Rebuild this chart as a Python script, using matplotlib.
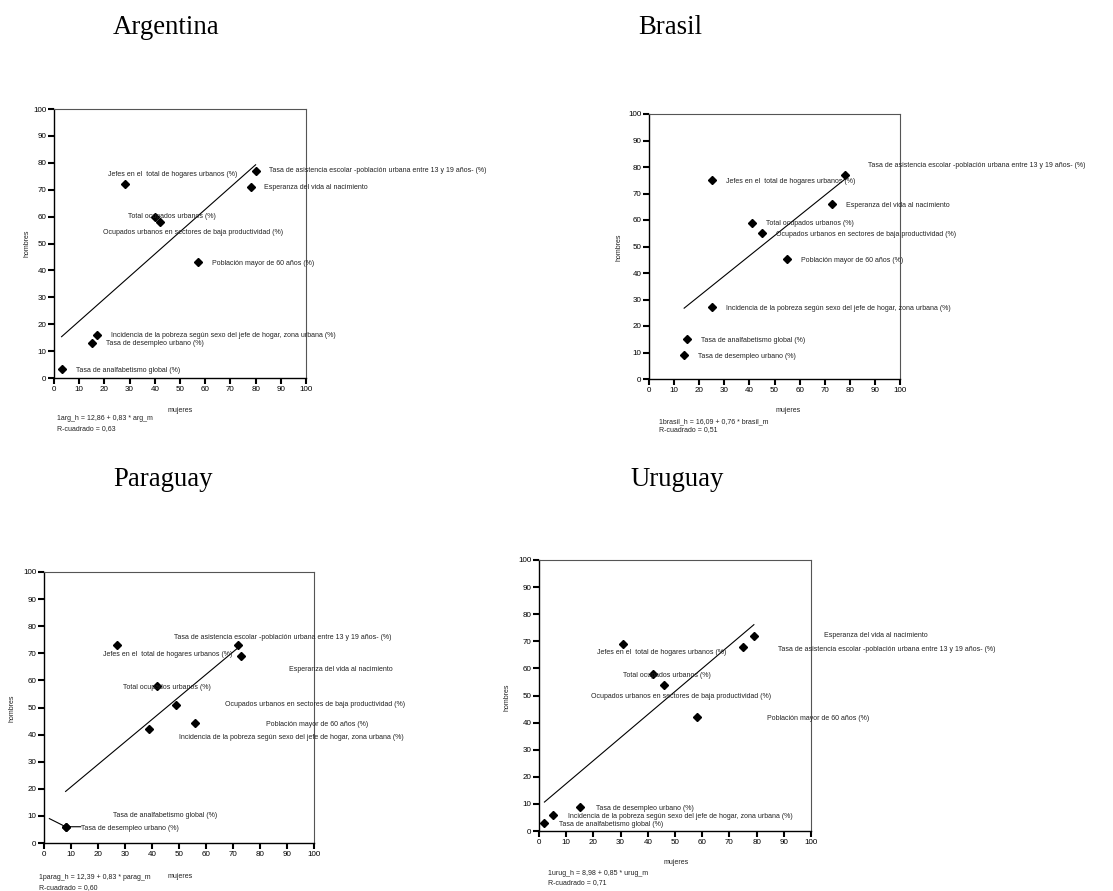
import matplotlib
matplotlib.use("Agg")
import matplotlib.pyplot as plt
import numpy as np

W, H = 1113, 891
SANS = "Liberation Sans"
SERIF = "Liberation Serif"

categories = [
    "Jefes en el  total de hogares urbanos (%)",
    "Tasa de asistencia escolar -población urbana entre 13 y 19 años- (%)",
    "Esperanza del vida al nacimiento",
    "Total ocupados urbanos (%)",
    "Ocupados urbanos en sectores de baja productividad (%)",
    "Población mayor de 60 años (%)",
    "Incidencia de la pobreza según sexo del jefe de hogar, zona urbana (%)",
    "Tasa de desempleo urbano (%)",
    "Tasa de analfabetismo global (%)",
]

ticks = [0, 10, 20, 30, 40, 50, 60, 70, 80, 90, 100]

# data values (mujeres = x, hombres = y)
arg_m = [28, 80, 78, 40, 42, 57, 17, 15, 3]
arg_h = [72, 77, 71, 60, 58, 43, 16, 13, 3.3]
bra_m = [25, 78, 73, 41, 45, 55, 25, 14, 15]
bra_h = [75, 77, 66, 59, 55, 45.4, 27.3, 9, 15]
par_m = [27, 72, 73, 42, 49, 56, 39, 8, 8]
par_h = [73, 73, 69, 58, 51, 44.4, 42, 6, 6]
uru_m = [31, 75, 79, 42, 46, 58, 5, 15, 2]
uru_h = [69, 68, 72, 58, 54, 42, 6, 9, 3]

# regression coefficients and R-squared as printed
arg_fit = (12.86, 0.83, 0.63)
bra_fit = (16.09, 0.76, 0.51)
par_fit = (12.39, 0.83, 0.60)
uru_fit = (8.98, 0.85, 0.71)

eq_line1 = [
    "1arg_h = 12,86 + 0,83 * arg_m",
    "1brasil_h = 16,09 + 0,76 * brasil_m",
    "1parag_h = 12,39 + 0,83 * parag_m",
    "1urug_h = 8,98 + 0,85 * urug_m",
]
eq_line2 = ["R-cuadrado = 0,63", "R-cuadrado = 0,51", "R-cuadrado = 0,60", "R-cuadrado = 0,71"]
titles = ["Argentina", "Brasil", "Paraguay", "Uruguay"]

# label placement (data coordinates of label left edge / vertical center)
arg_lx = [21.3, 85.4, 83.5, 29.5, 19.3, 62.7, 22.6, 20.6, 8.7]
arg_ly = [75.8, 77.0, 70.9, 60.1, 54.0, 42.7, 15.7, 12.7, 2.7]
bra_lx = [30.7, 87.3, 78.4, 46.6, 50.5, 60.4, 30.7, 19.7, 20.6]
bra_ly = [74.6, 80.4, 65.5, 58.7, 54.6, 44.9, 26.7, 8.6, 14.7]
par_lx = [21.9, 48.3, 90.6, 29.3, 67.0, 82.3, 50.0, 13.6, 25.7]
par_ly = [69.7, 76.0, 64.2, 57.2, 51.2, 43.9, 39.1, 5.5, 10.3]
uru_lx = [21.4, 87.7, 104.6, 30.7, 19.0, 84.0, 10.7, 20.8, 7.4]
uru_ly = [65.7, 67.0, 72.3, 57.5, 49.7, 41.4, 5.5, 8.3, 2.5]

# layout (pixels): axes box, title center/baseline, xlabel, ylabel, equation lines
panels = [
    dict(box=(54, 109, 306, 378), title=(166.5, 34), xl=(180, 410), yl=(27, 243), eq=(57, 419, 428.7)),
    dict(box=(649, 114, 900, 379), title=(670, 33.5), xl=(788, 411), yl=(619, 247), eq=(659, 421.7, 430)),
    dict(box=(44, 572, 314, 843), title=(162.7, 486), xl=(180, 876), yl=(12, 708), eq=(39, 877.3, 887.3)),
    dict(box=(539, 560, 811, 831), title=(677, 485.7), xl=(676, 863), yl=(507, 697), eq=(548, 873.3, 882.3)),
]

series = [
    (arg_m, arg_h, arg_fit, arg_lx, arg_ly),
    (bra_m, bra_h, bra_fit, bra_lx, bra_ly),
    (par_m, par_h, par_fit, par_lx, par_ly),
    (uru_m, uru_h, uru_fit, uru_lx, uru_ly),
]

fig = plt.figure(figsize=(W / 100, H / 100), dpi=100)
fig.patch.set_facecolor("white")


def fx(px):
    return px / W


def fy(py):
    return 1 - py / H


for i, (pan, (xm, yh, fit, lx, ly)) in enumerate(zip(panels, series)):
    x0, y0, x1, y1 = pan["box"]
    ax = fig.add_axes([fx(x0), fy(y1), fx(x1) - fx(x0), (y1 - y0) / H])
    ax.set_xlim(0, 100)
    ax.set_ylim(0, 100)
    ax.set_xticks(ticks)
    ax.set_yticks(ticks)
    ax.set_xticklabels([str(t) for t in ticks], fontfamily=SANS, fontsize=5.8)
    ax.set_yticklabels([str(t) for t in ticks], fontfamily=SANS, fontsize=5.8)
    ax.tick_params(direction="out", length=4, width=1.5, pad=1.5, color="black")
    for s in ["left", "bottom"]:
        ax.spines[s].set_color("black")
        ax.spines[s].set_linewidth(1.0)
    for s in ["top", "right"]:
        ax.spines[s].set_color("#555555")
        ax.spines[s].set_linewidth(0.8)

    xm_a = np.array(xm, dtype=float)
    yh_a = np.array(yh, dtype=float)
    a, b, r2 = fit
    xr = np.array([xm_a.min(), xm_a.max()])
    ax.plot(xr, a + b * xr, color="black", lw=0.8)
    ax.plot(xm_a, yh_a, linestyle="none", marker="D", markersize=4.3,
            color="black", clip_on=False, zorder=3)
    for cat, tx, ty in zip(categories, lx, ly):
        ax.text(tx, ty, cat, fontfamily=SANS, fontsize=5.05, ha="left", va="center",
                color="#222222", clip_on=False, zorder=4)
    if titles[i] == "Paraguay":
        k = 7
        ax.plot([xm[k] - 6, xm[k], lx[k]], [yh[k] + 3, yh[k], yh[k]], color="black", lw=0.8)

    fig.text(fx(pan["title"][0]), fy(pan["title"][1]), titles[i], fontfamily=SERIF,
             fontsize=19.3, ha="center", va="baseline")
    fig.text(fx(pan["xl"][0]), fy(pan["xl"][1]), "mujeres", fontfamily=SANS,
             fontsize=5.0, ha="center", va="center", color="#222222")
    fig.text(fx(pan["yl"][0]), fy(pan["yl"][1]), "hombres", fontfamily=SANS,
             fontsize=5.0, ha="center", va="center", rotation=90, color="#222222")
    ex, ey1, ey2 = pan["eq"]
    fig.text(fx(ex), fy(ey1), eq_line1[i], fontfamily=SANS,
             fontsize=5.0, ha="left", va="center", color="#222222")
    fig.text(fx(ex), fy(ey2), eq_line2[i], fontfamily=SANS,
             fontsize=5.0, ha="left", va="center", color="#222222")

fig.savefig("out.png", dpi=100, facecolor="white")
